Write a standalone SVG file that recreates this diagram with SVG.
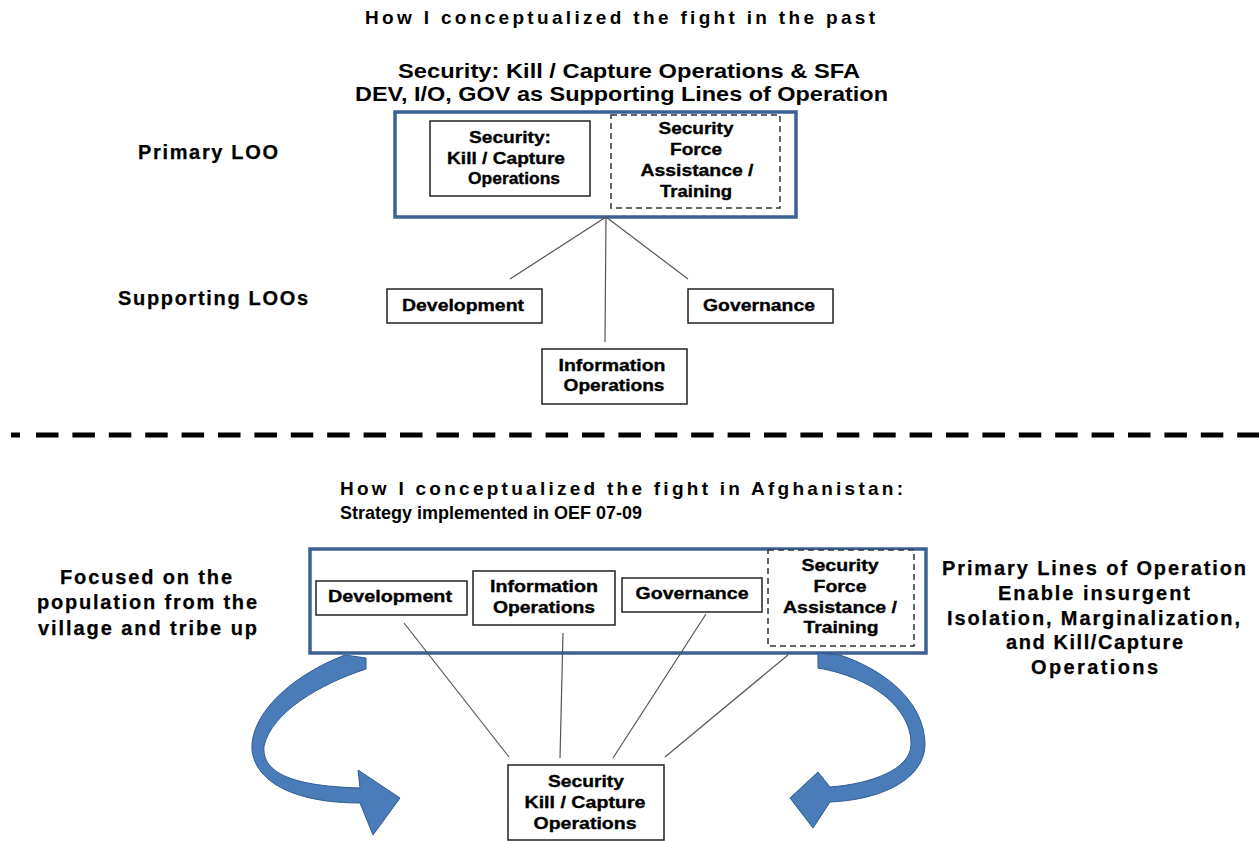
<svg xmlns="http://www.w3.org/2000/svg" width="1259" height="841" viewBox="0 0 1259 841">
<style>
.t{font-family:"Liberation Sans",Arial,sans-serif;font-weight:bold;fill:#000}
.bx{font-size:17px;stroke:#000;stroke-width:0.35}
.sd{font-size:20px;stroke:#000;stroke-width:0.25}
.ti{font-size:19px}
.node{fill:#fff;stroke:#222;stroke-width:1.5}
.dash{fill:#fff;stroke:#333;stroke-width:1.5;stroke-dasharray:6 4}
.big{fill:#fff;stroke:#3d6194;stroke-width:3.5}
.conn{stroke:#555;stroke-width:1.2;fill:none}
.arrow{fill:#4a7cba;stroke:#2e5b92;stroke-width:1}
</style>
<rect width="1259" height="841" fill="#fff"/>

<!-- Titles -->
<g id="titles">
<text class="t ti" x="365" y="24" textLength="510" lengthAdjust="spacing">How I conceptualized the fight in the past</text>
<text class="t" font-size="21" x="398" y="78" textLength="462" lengthAdjust="spacingAndGlyphs">Security: Kill / Capture Operations &amp; SFA</text>
<text class="t" font-size="21" x="355" y="101" textLength="533" lengthAdjust="spacingAndGlyphs">DEV, I/O, GOV as Supporting Lines of Operation</text>
<text class="t ti" x="340" y="495" textLength="563" lengthAdjust="spacing">How I conceptualized the fight in Afghanistan:</text>
<text class="t ti" x="340" y="519" textLength="302" lengthAdjust="spacingAndGlyphs">Strategy implemented in OEF 07-09</text>
</g>

<g id="side-labels">
<text class="t sd" x="138" y="159" textLength="140" lengthAdjust="spacing">Primary LOO</text>
<text class="t sd" x="118" y="305" textLength="190" lengthAdjust="spacing">Supporting LOOs</text>
<text class="t sd" x="60" y="584" textLength="172" lengthAdjust="spacing">Focused on the</text>
<text class="t sd" x="37" y="609" textLength="220" lengthAdjust="spacing">population from the</text>
<text class="t sd" x="38" y="635" textLength="219" lengthAdjust="spacing">village and tribe up</text>
<text class="t sd" x="942" y="575" textLength="304" lengthAdjust="spacing">Primary Lines of  Operation</text>
<text class="t sd" x="998" y="600" textLength="192" lengthAdjust="spacing">Enable insurgent</text>
<text class="t sd" x="947" y="625" textLength="293" lengthAdjust="spacing">Isolation, Marginalization,</text>
<text class="t sd" x="1006" y="649" textLength="177" lengthAdjust="spacing">and Kill/Capture</text>
<text class="t sd" x="1031" y="674" textLength="127" lengthAdjust="spacing">Operations</text>
</g>

<!-- Separator -->
<g id="separator" stroke="#000" stroke-width="5">
<line x1="11" y1="435" x2="20" y2="435"/>
<line x1="36" y1="435" x2="1259" y2="435" stroke-dasharray="22.5 13.9"/>
</g>

<!-- Container boxes -->
<g id="primary-loo-box"><rect class="big" x="395" y="112" width="401" height="105"/></g>
<g id="primary-lines-box"><rect class="big" x="310" y="549" width="616" height="104" stroke-width="4"/></g>

<!-- Connectors -->
<g id="connectors">
<line class="conn" x1="606" y1="217" x2="510" y2="279"/>
<line class="conn" x1="606" y1="217" x2="605" y2="342"/>
<line class="conn" x1="606" y1="217" x2="688" y2="279"/>
<line class="conn" x1="404" y1="623" x2="509" y2="757"/>
<line class="conn" x1="563" y1="633" x2="560" y2="758"/>
<line class="conn" x1="706" y1="614" x2="613" y2="758"/>
<line class="conn" x1="788" y1="655" x2="665" y2="757"/>
<path class="arrow" d="M 345 655 L 366 658 L 366 669 C 320 684, 272 712, 264 746 C 262 770, 285 786, 360 788 L 358 770 L 400 798 L 373 835 L 360 803 C 300 803, 256 785, 252 750 C 250 712, 295 674, 345 655 Z"/>
<path class="arrow" d="M 818 668 L 818 653 L 840 655 C 890 672, 925 705, 925 745 C 924 780, 880 800, 830 802 L 813 828 L 790 798 L 818 772 L 830 787 C 870 784, 910 770, 911 745 C 912 710, 875 678, 818 668 Z"/>
</g>

<!-- Top section -->
<g id="top-security">
<rect class="node" x="430" y="121" width="160" height="75"/>
<text class="t bx" text-anchor="middle" x="510" y="143" textLength="82" lengthAdjust="spacingAndGlyphs">Security:</text>
<text class="t bx" text-anchor="middle" x="506" y="164" textLength="118" lengthAdjust="spacingAndGlyphs">Kill / Capture</text>
<text class="t bx" text-anchor="middle" x="514" y="184" textLength="92" lengthAdjust="spacingAndGlyphs">Operations</text>
</g>
<g id="top-sfa">
<rect class="dash" x="611" y="115" width="169" height="93"/>
<text class="t bx" text-anchor="middle" x="696" y="134" textLength="75" lengthAdjust="spacingAndGlyphs">Security</text>
<text class="t bx" text-anchor="middle" x="696" y="155" textLength="52" lengthAdjust="spacingAndGlyphs">Force</text>
<text class="t bx" text-anchor="middle" x="697" y="176" textLength="113" lengthAdjust="spacingAndGlyphs">Assistance /</text>
<text class="t bx" text-anchor="middle" x="696" y="197" textLength="72" lengthAdjust="spacingAndGlyphs">Training</text>
</g>
<g id="top-development">
<rect class="node" x="387" y="289" width="155" height="34"/>
<text class="t bx" text-anchor="middle" x="463" y="311" textLength="122" lengthAdjust="spacingAndGlyphs">Development</text>
</g>
<g id="top-governance">
<rect class="node" x="688" y="289" width="145" height="34"/>
<text class="t bx" text-anchor="middle" x="759" y="311" textLength="112" lengthAdjust="spacingAndGlyphs">Governance</text>
</g>
<g id="top-information">
<rect class="node" x="542" y="349" width="145" height="55"/>
<text class="t bx" text-anchor="middle" x="612" y="371" textLength="107" lengthAdjust="spacingAndGlyphs">Information</text>
<text class="t bx" text-anchor="middle" x="614" y="391" textLength="101" lengthAdjust="spacingAndGlyphs">Operations</text>
</g>

<!-- Bottom section -->
<g id="bottom-development">
<rect class="node" x="316" y="581" width="151" height="34"/>
<text class="t bx" text-anchor="middle" x="390" y="602" textLength="124" lengthAdjust="spacingAndGlyphs">Development</text>
</g>
<g id="bottom-information">
<rect class="node" x="473" y="571" width="142" height="54"/>
<text class="t bx" text-anchor="middle" x="544" y="592" textLength="108" lengthAdjust="spacingAndGlyphs">Information</text>
<text class="t bx" text-anchor="middle" x="544" y="613" textLength="102" lengthAdjust="spacingAndGlyphs">Operations</text>
</g>
<g id="bottom-governance">
<rect class="node" x="622" y="578" width="140" height="34"/>
<text class="t bx" text-anchor="middle" x="692" y="599" textLength="113" lengthAdjust="spacingAndGlyphs">Governance</text>
</g>
<g id="bottom-sfa">
<rect class="dash" x="768" y="550" width="146" height="96"/>
<text class="t bx" text-anchor="middle" x="840" y="571" textLength="77" lengthAdjust="spacingAndGlyphs">Security</text>
<text class="t bx" text-anchor="middle" x="840" y="592" textLength="53" lengthAdjust="spacingAndGlyphs">Force</text>
<text class="t bx" text-anchor="middle" x="840" y="613" textLength="114" lengthAdjust="spacingAndGlyphs">Assistance /</text>
<text class="t bx" text-anchor="middle" x="841" y="633" textLength="75" lengthAdjust="spacingAndGlyphs">Training</text>
</g>
<g id="bottom-security">
<rect class="node" x="508" y="765" width="156" height="75"/>
<text class="t bx" text-anchor="middle" x="586" y="787" textLength="76" lengthAdjust="spacingAndGlyphs">Security</text>
<text class="t bx" text-anchor="middle" x="585" y="808" textLength="121" lengthAdjust="spacingAndGlyphs">Kill / Capture</text>
<text class="t bx" text-anchor="middle" x="585" y="829" textLength="103" lengthAdjust="spacingAndGlyphs">Operations</text>
</g>
</svg>
